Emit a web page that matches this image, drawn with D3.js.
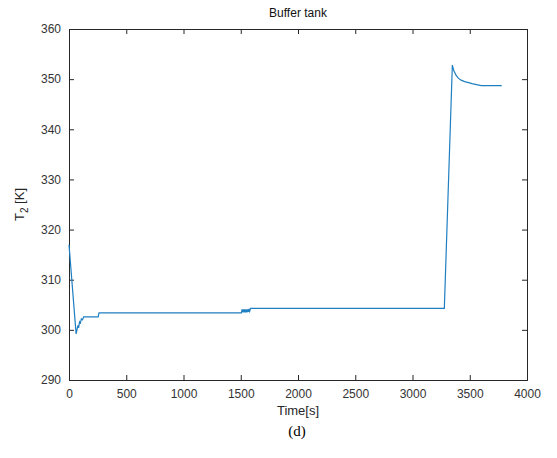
<!DOCTYPE html>
<html>
<head>
<meta charset="utf-8">
<script src="https://cdn.jsdelivr.net/npm/d3@7"></script>
<style>
  body { margin: 0; background: #fff; }
  text { font-family: "Liberation Sans", Arial, sans-serif; }
</style>
</head>
<body>
<script>
// Data
const timeS = [0, 62, 78, 84, 92, 100, 108, 118, 128, 150, 255, 262,
  1505, 1512, 1518, 1524, 1530, 1536, 1542, 1548, 1554, 1560, 1566, 1572, 1578, 1585,
  3278, 3348, 3362, 3380, 3400, 3425, 3455, 3490, 3520, 3560, 3600, 3680, 3779];
const tempK = [317, 299.2, 300.9, 300.4, 301.6, 301.4, 302.2, 302.0, 302.6, 302.6, 302.6, 303.4,
  303.4, 304.1, 303.5, 304.1, 303.5, 304.1, 303.5, 304.1, 303.5, 304.1, 303.6, 304.2, 303.7, 304.3,
  304.3, 352.8, 351.6, 350.8, 350.2, 349.8, 349.5, 349.3, 349.1, 348.9, 348.7, 348.7, 348.7];
const xTicks = [0, 500, 1000, 1500, 2000, 2500, 3000, 3500, 4000];
const yTicks = [290, 300, 310, 320, 330, 340, 350, 360];

const data = timeS.map((t, i) => ({ t: t, v: tempK[i] }));

const width = 557, height = 458;
const margin = { top: 29, right: 30, bottom: 78, left: 69 };
const iw = width - margin.left - margin.right;
const ih = height - margin.top - margin.bottom;

const svg = d3.select("body").append("svg")
    .attr("width", width)
    .attr("height", height);

const g = svg.append("g")
    .attr("transform", `translate(${margin.left},${margin.top})`);

const x = d3.scaleLinear().domain([0, 4000]).range([0, iw]);
const y = d3.scaleLinear().domain([290, 360]).range([ih, 0]);

const axisColor = "#262626";

// Axes (MATLAB style: ticks inward, box on all sides)
const xAxis = g.append("g")
    .attr("transform", `translate(0,${ih})`)
    .call(d3.axisBottom(x).tickValues(xTicks).tickFormat(d3.format("d")).tickSize(-5).tickPadding(9));
const yAxis = g.append("g")
    .call(d3.axisLeft(y).tickValues(yTicks).tickFormat(d3.format("d")).tickSize(-5).tickPadding(8));
const xTop = g.append("g")
    .call(d3.axisTop(x).tickValues(xTicks).tickSize(-5).tickFormat(""));
const yRight = g.append("g")
    .attr("transform", `translate(${iw},0)`)
    .call(d3.axisRight(y).tickValues(yTicks).tickSize(-5).tickFormat(""));

[xAxis, yAxis, xTop, yRight].forEach(a => {
    a.select(".domain").attr("stroke", axisColor).attr("stroke-width", 1);
    a.selectAll(".tick line").attr("stroke", axisColor);
    a.selectAll(".tick text")
        .attr("fill", "#333")
        .style("font-size", "12px")
        .style("font-family", "Liberation Sans, Arial, sans-serif");
});

// Data line
const line = d3.line()
    .x(d => x(d.t))
    .y(d => y(d.v));

g.append("path")
    .datum(data)
    .attr("fill", "none")
    .attr("stroke", "#1f7fc0")
    .attr("stroke-width", 1.2)
    .attr("d", line);

// Title
svg.append("text")
    .attr("x", margin.left + iw / 2)
    .attr("y", 17)
    .attr("text-anchor", "middle")
    .attr("fill", "#111")
    .style("font-size", "12px")
    .text("Buffer tank");

// X label
svg.append("text")
    .attr("x", margin.left + iw / 2)
    .attr("y", 415)
    .attr("text-anchor", "middle")
    .attr("fill", "#262626")
    .style("font-size", "13px")
    .text("Time[s]");

// Y label
const yl = svg.append("text")
    .attr("transform", `translate(24,${margin.top + ih / 2}) rotate(-90)`)
    .attr("text-anchor", "middle")
    .attr("fill", "#262626")
    .style("font-size", "13px");
yl.append("tspan").text("T");
yl.append("tspan").attr("dy", 4).style("font-size", "10px").text("2");
yl.append("tspan").attr("dy", -4).text(" [K]");

// Caption
svg.append("text")
    .attr("x", 297)
    .attr("y", 436)
    .attr("text-anchor", "middle")
    .attr("fill", "#000")
    .style("font-family", "Liberation Serif, Times New Roman, serif")
    .style("font-size", "15px")
    .text("(d)");
</script>
</body>
</html>
